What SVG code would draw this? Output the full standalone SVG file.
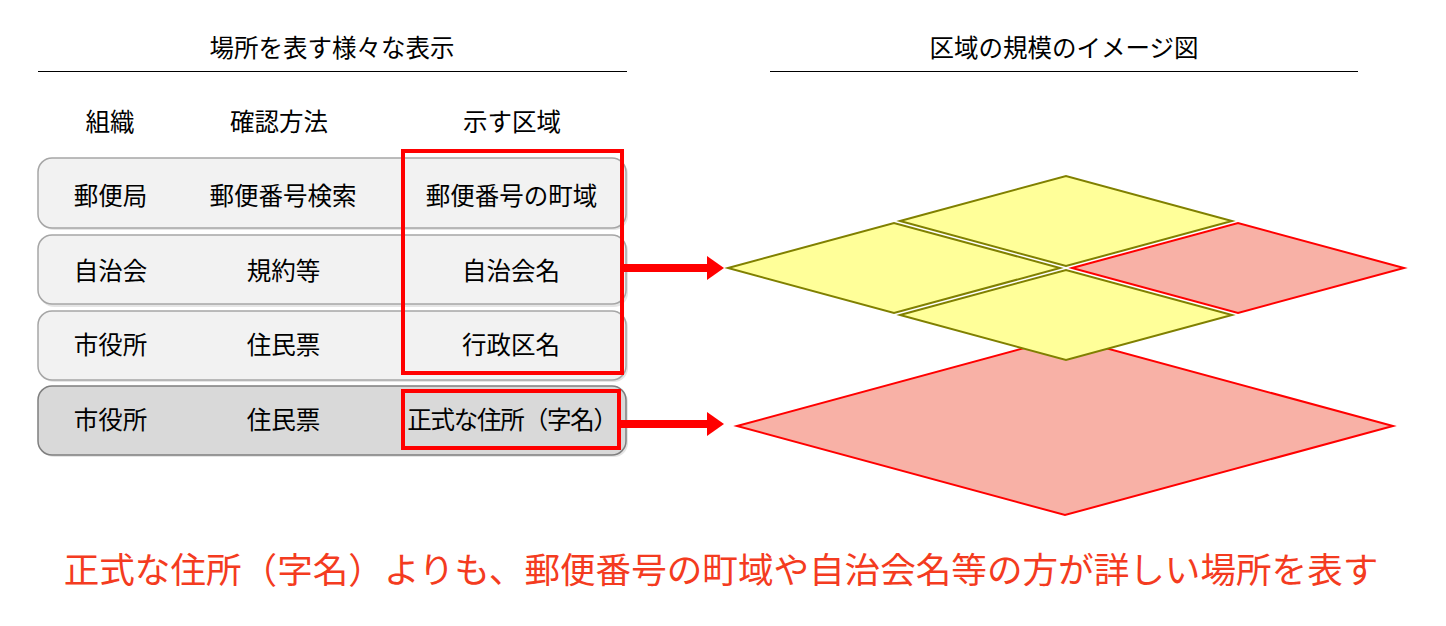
<svg xmlns="http://www.w3.org/2000/svg" width="1446" height="626" viewBox="0 0 1446 626">
<style>
.t{font-family:"Noto Sans CJK JP","Noto Sans CJK SC",sans-serif;font-size:24.5px;fill:#000;text-anchor:middle}
.row{fill:#f2f2f2;stroke:#a6a6a6;stroke-width:1.5}
.rowd{fill:#d9d9d9;stroke:#7f7f7f;stroke-width:1.5}
.sh{fill:#000;opacity:0.1}
.hl{stroke:#ff0000;stroke-width:4;fill:none}
.yel{fill:#ffff99;stroke:#808000;stroke-width:2}
.red{fill:#f8b1a6;stroke:#ff0000;stroke-width:2}
.rule{stroke:#000;stroke-width:1}
.arr{fill:#ff0000}
.note{font-family:"Noto Sans CJK JP","Noto Sans CJK SC",sans-serif;font-size:35.6px;fill:#f43b20;text-anchor:middle}
</style>
<g id="titles">
<text class="t" x="332" y="57">場所を表す様々な表示</text>
<line class="rule" x1="38" y1="71.5" x2="627" y2="71.5"/>
<text class="t" x="1064" y="57">区域の規模のイメージ図</text>
<line class="rule" x1="770" y1="71.5" x2="1358" y2="71.5"/>
</g>
<g id="headers">
<text class="t" x="110" y="131">組織</text>
<text class="t" x="279" y="131">確認方法</text>
<text class="t" x="512" y="131">示す区域</text>
</g>
<g id="row1">
<rect class="sh" x="40" y="160" width="588" height="70" rx="14"/>
<rect class="row" x="38" y="158" width="588" height="70" rx="14"/>
<text class="t" x="110.5" y="205">郵便局</text>
<text class="t" x="283" y="205">郵便番号検索</text>
<text class="t" x="511.5" y="205">郵便番号の町域</text>
</g>
<g id="row2">
<rect class="sh" x="40" y="237" width="588" height="70" rx="14"/>
<rect class="row" x="38" y="235" width="588" height="69" rx="14"/>
<text class="t" x="110.5" y="280">自治会</text>
<text class="t" x="283.5" y="280">規約等</text>
<text class="t" x="511" y="280">自治会名</text>
</g>
<g id="row3">
<rect class="sh" x="40" y="313" width="588" height="69" rx="14"/>
<rect class="row" x="38" y="311" width="588" height="69" rx="14"/>
<text class="t" x="110.5" y="354">市役所</text>
<text class="t" x="283.5" y="354">住民票</text>
<text class="t" x="511" y="354">行政区名</text>
</g>
<g id="row4">
<rect class="sh" x="40" y="388" width="588" height="69" rx="14"/>
<rect class="rowd" x="38" y="386" width="588" height="69" rx="14"/>
<text class="t" x="110.5" y="429">市役所</text>
<text class="t" x="283.5" y="429">住民票</text>
<text class="t" x="512" y="429" letter-spacing="-1.2">正式な住所（字名）</text>
</g>
<g id="highlight-upper"><rect class="hl" x="403" y="151" width="219" height="222"/></g>
<g id="highlight-lower"><rect class="hl" x="403" y="391" width="216" height="57"/></g>
<g id="connectors">
<rect class="arr" x="622" y="264" width="87" height="8"/>
<polygon class="arr" points="707,256 724,268 707,280"/>
<rect class="arr" x="619" y="420" width="90" height="8"/>
<polygon class="arr" points="707,412 724,424 707,436"/>
</g>
<g id="big-area"><polygon class="red" points="737,426 1065,337 1393,426 1065,515"/></g>
<g id="small-top"><polygon class="yel" points="900,221 1066,176 1232,221 1066,266"/></g>
<g id="small-left"><polygon class="yel" points="728,268 894,223 1060,268 894,313"/></g>
<g id="small-right"><polygon class="red" points="1072,268 1238,223 1404,268 1238,313"/></g>
<g id="small-bottom"><polygon class="yel" points="900,315 1066,270 1232,315 1066,360"/></g>
<g id="note"><text class="note" x="721" y="583">正式な住所（字名）よりも、郵便番号の町域や自治会名等の方が詳しい場所を表す</text></g>
</svg>
